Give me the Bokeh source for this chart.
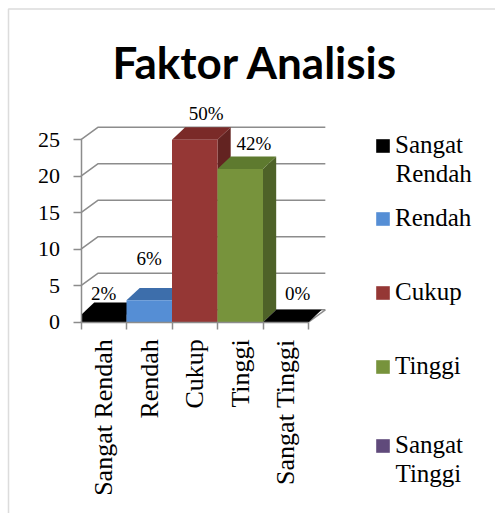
import math
from bokeh.plotting import figure
from bokeh.models import (Range1d, FixedTicker, Label, LabelSet, Legend, LegendItem,
                          ColumnDataSource, BoxAnnotation)
from bokeh.embed import file_html
from bokeh.resources import INLINE

# ---------------- data ----------------
categories = ["Sangat Rendah", "Rendah", "Cukup", "Tinggi", "Sangat Tinggi"]
counts = [1, 3, 25, 21, 0]
percent_labels = ["2%", "6%", "50%", "42%", "0%"]
y_ticks = [0, 5, 10, 15, 20, 25]
legend_first = ["Sangat", "Rendah", "Cukup", "Tinggi", "Sangat"]
legend_second = ["Rendah", "", "", "", "Tinggi"]
title_text = "Faktor Analisis"

# ---------------- styles / layout ----------------
front_colors = ["#000000", "#558ED5", "#953735", "#77933C", "#604A7B"]
top_colors = ["#000000", "#3D6EAB", "#7A2A28", "#5E7A2F", "#000000"]
side_colors = ["#000000", "#34609A", "#632321", "#4E6228", "#000000"]
GRID = "#8C8C8C"
SERIF = "Liberation Serif"
W, H = 495, 513
X0_PX, Y0_PX = 80.5, 321.7      # pixel position of data (0, 0)
PX_X, PX_Y = 45.5, 7.3          # pixels per data unit
DXW, DYW = 0.37, 1.7            # wall depth (data units)
DXB, DYB = 0.29, 1.7            # bar depth
lab_dx = [0.0, 0.0, 0.25, 0.3, 0.26]
lab_dy = [3.0, 5.7, 3.6, 3.5, 4.0]
LEG_X, GLYPH, STANDOFF = 374, 17, 4
leg_center = [145, 218, 292, 366, 445]   # first-line centres (px)
LINE_H = 28
LEG_HALF = 14


def dx(px):
    return (px - X0_PX) / PX_X


def dy(py):
    return (Y0_PX - py) / PX_Y


n = len(categories)
ymax = max(y_ticks)

p = figure(width=W, height=H, output_backend="svg", toolbar_location=None,
           x_range=Range1d(dx(0), dx(W)), y_range=Range1d(dy(H), dy(0)),
           min_border=0, min_border_left=0, min_border_right=0,
           min_border_top=0, min_border_bottom=0)
p.background_fill_color = "white"
p.border_fill_color = "white"
p.outline_line_color = None
p.xgrid.visible = False
p.ygrid.visible = False

# chart border
p.add_layout(BoxAnnotation(left=dx(8), top=dy(8.5), right=dx(W + 20), bottom=dy(H + 20),
                           fill_alpha=0, line_color=GRID, line_width=1.5))

# walls / gridlines
gx, gy = [], []
for t in y_ticks:
    gx.append([0, DXW, n + DXW])
    gy.append([t, t + DYW, t + DYW])
gx.append([n, n + DXW])
gy.append([0, DYW])
p.multi_line(gx, gy, line_color=GRID, line_width=1.5)

# bars
sx, sy, tx, ty = [], [], [], []
for i, v in enumerate(counts):
    sx.append([i + 1, i + 1 + DXB, i + 1 + DXB, i + 1])
    sy.append([0, DYB, v + DYB, v])
    tx.append([i, i + 1, i + 1 + DXB, i + DXB])
    ty.append([v, v, v + DYB, v + DYB])
p.patches(sx, sy, fill_color=side_colors, line_color=None)
p.patches(tx, ty, fill_color=top_colors, line_color=None)
front_src = ColumnDataSource(dict(left=list(range(n)), right=[i + 1 for i in range(n)],
                                  top=counts, color=front_colors))
front = p.quad(left="left", right="right", bottom=0, top="top", fill_color="color",
               line_color=None, source=front_src)

# data labels
lab_src = ColumnDataSource(dict(x=[i + 0.5 + lab_dx[i] for i in range(n)],
                                y=[counts[i] + lab_dy[i] for i in range(n)],
                                t=percent_labels))
p.add_layout(LabelSet(x="x", y="y", text="t", source=lab_src, text_font=SERIF,
                      text_font_size="19px", text_align="center", text_baseline="middle",
                      text_color="black"))

# axes
ya = p.yaxis[0]
ya.fixed_location = 0
ya.ticker = FixedTicker(ticks=y_ticks)
ya.bounds = (0, ymax)
ya.axis_line_color = GRID
ya.axis_line_width = 1.5
ya.major_tick_line_color = GRID
ya.major_tick_line_width = 1.5
ya.major_tick_out = 8
ya.major_tick_in = 0
ya.minor_tick_line_color = None
ya.major_label_text_font = SERIF
ya.major_label_text_font_size = "22px"
ya.major_label_text_color = "black"
ya.major_label_standoff = 13

xa = p.xaxis[0]
xa.fixed_location = 0
xa.ticker = FixedTicker(ticks=[i + 0.5 for i in range(n)], minor_ticks=list(range(n + 1)))
xa.bounds = (0, n)
xa.axis_line_color = GRID
xa.axis_line_width = 1.5
xa.major_tick_line_color = None
xa.major_tick_out = 7
xa.major_tick_in = 0
xa.minor_tick_line_color = GRID
xa.minor_tick_line_width = 1.5
xa.minor_tick_out = 7
xa.minor_tick_in = 0
xa.major_label_overrides = {i + 0.5: c for i, c in enumerate(categories)}
xa.major_label_orientation = math.pi / 2
xa.major_label_text_font = SERIF
xa.major_label_text_font_size = "26px"
xa.major_label_text_color = "black"
xa.major_label_standoff = 10

# title
p.add_layout(Label(x=dx(255), y=dy(61), text=title_text, text_font="Lato",
                   text_font_style="bold", text_font_size="44px", text_align="center",
                   text_baseline="alphabetic", text_color="black"))

# legend: one box per entry, wrapped second line as text below it
text_x = LEG_X + GLYPH + STANDOFF
for i in range(n):
    lg = Legend(items=[LegendItem(label=legend_first[i], renderers=[front], index=i)],
                location=(LEG_X, H - (leg_center[i] + LEG_HALF)), glyph_width=GLYPH,
                glyph_height=GLYPH, label_standoff=STANDOFF, padding=0, margin=0,
                border_line_color=None, background_fill_alpha=0, label_text_font=SERIF,
                label_text_font_size="25px", label_text_color="black")
    p.add_layout(lg)
    if legend_second[i]:
        p.add_layout(Label(x=dx(text_x), y=dy(leg_center[i] + LINE_H), text=legend_second[i],
                           text_font=SERIF, text_font_size="25px", text_align="left",
                           text_baseline="middle", text_color="black"))

open("out.html", "w").write(file_html(p, INLINE))
